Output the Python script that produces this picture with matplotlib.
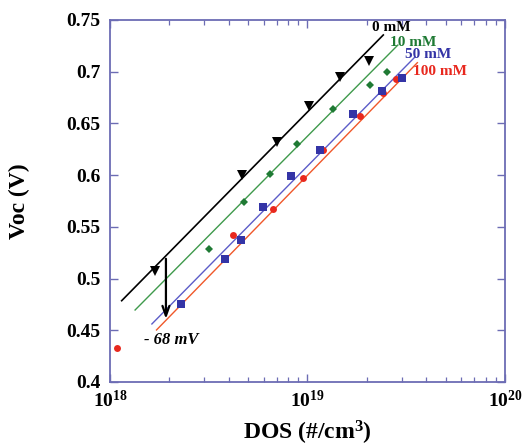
import numpy as np
import matplotlib
matplotlib.use("Agg")
import matplotlib.pyplot as plt
from matplotlib.ticker import LogLocator, NullFormatter

# measured points (DOS in #/cm^3, Voc in V)
dos_0mM = [1.70e18, 4.64e18, 6.98e18, 1.02e19, 1.46e19, 2.06e19]
voc_0mM = [0.507, 0.600, 0.632, 0.667, 0.695, 0.710]
dos_10mM = [3.17e18, 4.78e18, 6.46e18, 8.81e18, 1.35e19, 2.07e19, 2.52e19]
voc_10mM = [0.529, 0.574, 0.601, 0.630, 0.664, 0.687, 0.700]
dos_50mM = [2.29e18, 3.82e18, 4.59e18, 5.93e18, 8.24e18, 1.16e19, 1.71e19,
            2.38e19, 3.00e19]
voc_50mM = [0.475, 0.519, 0.537, 0.569, 0.599, 0.624, 0.659, 0.681, 0.694]
dos_100mM = [1.08e18, 4.21e18, 6.67e18, 9.46e18, 1.20e19, 1.85e19, 2.40e19,
             2.80e19]
voc_100mM = [0.433, 0.542, 0.567, 0.597, 0.624, 0.657, 0.679, 0.693]

# fitted lines, start/end points
fit_dos_start = [1.146e18, 1.34e18, 1.63e18, 1.72e18]
fit_dos_end = [2.42e19, 2.87e19, 3.50e19, 3.60e19]
fit_voc_start = [0.4786, 0.4696, 0.4561, 0.4503]
fit_voc_end = [0.7355, 0.7258, 0.7142, 0.7087]

series_labels = ["0 mM", "10 mM", "50 mM", "100 mM"]
label_pos = [(2.12e19, 0.7423), (2.62e19, 0.728), (3.12e19, 0.7162),
             (3.42e19, 0.700)]

# shift arrow
arrow_dos = 1.92e18
arrow_voc = (0.5218, 0.4583)
shift_text = "- 68 mV"

y_ticks = [0.40, 0.45, 0.50, 0.55, 0.60, 0.65, 0.70, 0.75]
y_ticklabels = ["0.4", "0.45", "0.5", "0.55", "0.6", "0.65", "0.7", "0.75"]
x_ticks = [1e18, 1e19, 1e20]
x_ticklabels = [r"$10^{18}$", r"$10^{19}$", r"$10^{20}$"]

plt.rcParams.update({
    "font.family": "Liberation Serif",
    "font.weight": "bold",
    "mathtext.fontset": "custom",
    "mathtext.rm": "Liberation Serif:bold",
    "mathtext.it": "Liberation Serif:bold:italic",
    "mathtext.bf": "Liberation Serif:bold",
})

SPINE = "#6c6cb4"
C_BLACK = "#000000"
C_GREEN = "#1f7a34"
C_BLUE = "#3434a6"
C_RED = "#e8281e"
L_GREEN = "#3f9a4c"
L_BLUE = "#5c5cc8"
L_RED = "#f0582a"

fig = plt.figure(figsize=(5.28, 4.46), dpi=100)
ax = fig.add_axes([0.2083, 0.1435, 0.7481, 0.8117])

point_sets = [
    (dos_0mM, voc_0mM, "v", C_BLACK, 6.5),
    (dos_10mM, voc_10mM, "D", C_GREEN, 4.0),
    (dos_50mM, voc_50mM, "s", C_BLUE, 5.8),
    (dos_100mM, voc_100mM, "o", C_RED, 5.0),
]
line_colors = [C_BLACK, L_GREEN, L_BLUE, L_RED]
line_widths = [1.2, 1.0, 1.0, 1.0]
text_colors = [C_BLACK, C_GREEN, C_BLUE, C_RED]

for i in range(4):
    ax.plot([fit_dos_start[i], fit_dos_end[i]],
            [fit_voc_start[i], fit_voc_end[i]],
            color=line_colors[i], lw=line_widths[i], zorder=2)

for i in (3, 0, 1, 2):
    x, y, m, c, ms = point_sets[i]
    ax.plot(x, y, linestyle="none", marker=m, color=c, ms=ms,
            markeredgewidth=0, zorder=3)

for lab, (lx, ly), c in zip(series_labels, label_pos, text_colors):
    ax.text(lx, ly, lab, color=c, fontsize=11, fontweight="bold",
            ha="left", va="center", zorder=4)

ax.annotate("", xy=(arrow_dos, arrow_voc[1]), xytext=(arrow_dos, arrow_voc[0]),
            arrowprops=dict(arrowstyle="->,head_length=0.7,head_width=0.25",
                            color="black", lw=1.6), zorder=4)
ax.text(1.49e18, 0.4406, shift_text, fontsize=12, fontweight="bold",
        fontstyle="italic", ha="left", va="center")

ax.set_xscale("log")
ax.set_xlim(1e18, 1e20)
ax.set_ylim(0.40, 0.75)
ax.set_xticks(x_ticks)
ax.set_xticklabels(x_ticklabels)
ax.xaxis.set_minor_locator(LogLocator(base=10, subs=np.arange(2, 10)))
ax.xaxis.set_minor_formatter(NullFormatter())
ax.set_yticks(y_ticks)
ax.set_yticklabels(y_ticklabels)

for sp in ax.spines.values():
    sp.set_color(SPINE)
    sp.set_linewidth(1.3)
ax.tick_params(which="both", direction="in", top=True, right=True,
               color=SPINE, labelsize=14)
ax.tick_params(which="major", length=6, width=1.0)
ax.tick_params(which="minor", length=3.5, width=0.9)
ax.tick_params(axis="y", pad=7)
ax.tick_params(axis="x", pad=6)
for t in ax.get_yticklabels():
    t.set_fontweight("bold")

ax.set_xlabel(r"DOS (#/cm$^3$)", fontsize=17, fontweight="bold", labelpad=5)
ax.set_ylabel("Voc (V)", fontsize=17, fontweight="bold", labelpad=26)

fig.savefig("out.png", dpi=100)
